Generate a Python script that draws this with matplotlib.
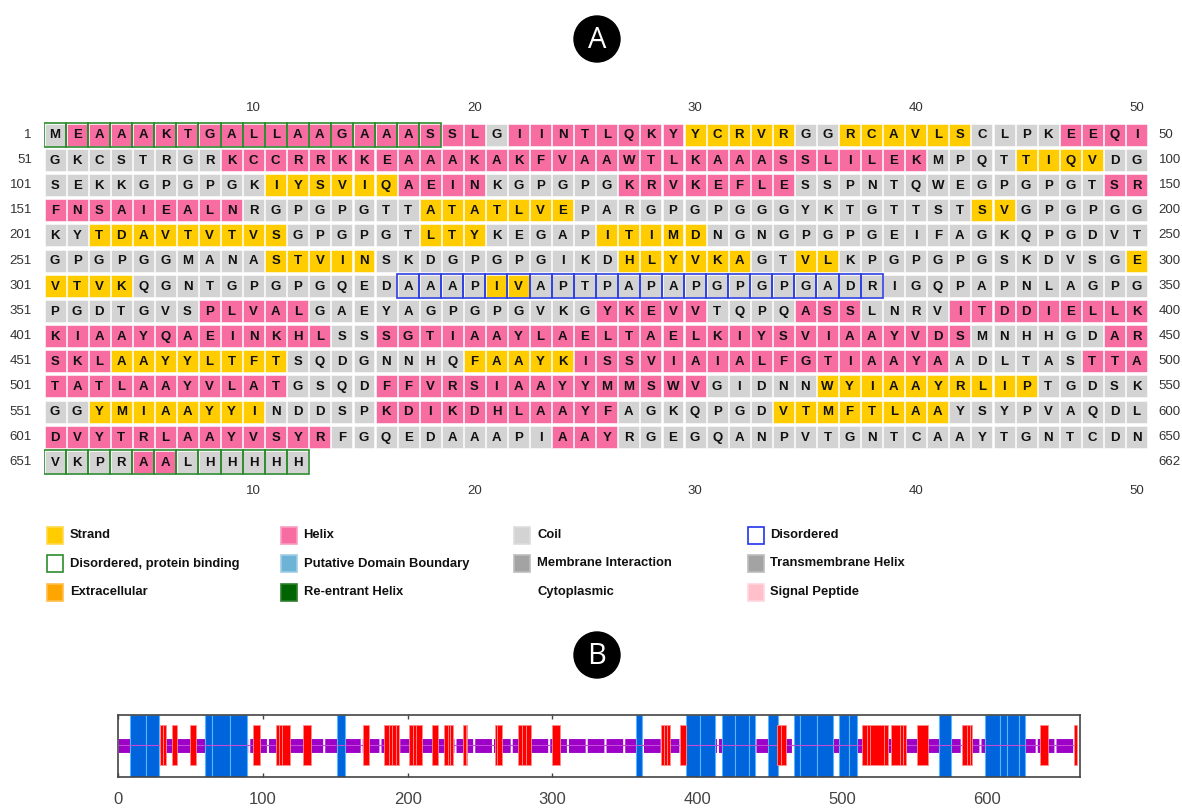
import matplotlib
matplotlib.use("Agg")
import matplotlib.pyplot as plt
from matplotlib.patches import Rectangle, Circle

plt.rcParams["font.family"] = ["Liberation Sans", "DejaVu Sans"]

# ------------------------------------------------------------
# Panel A: sequence with predicted secondary structure
# (50 residues per row, groups of ten for readability)
# ------------------------------------------------------------
SEQ_ROWS = [
    "MEAAAKTGAL LAAGAAASSL GIINTLQKYY CRVRGGRCAV LSCLPKEEQI",
    "GKCSTRGRKC CRRKKEAAAK AKFVAAWTLK AAASSLILEK MPQTTIQVDG",
    "SEKKGPGPGK IYSVIQAEIN KGPGPGKRVK EFLESSPNTQ WEGPGPGTSR",
    "FNSAIEALNR GPGPGTTATA TLVEPARGPG PGGGYKTGTT STSVGPGPGG",
    "KYTDAVTVTV SGPGPGTLTY KEGAPITIMD NGNGPGPGEI FAGKQPGDVT",
    "GPGPGGMANA STVINSKDGP GPGIKDHLYV KAGTVLKPGP GPGSKDVSGE",
    "VTVKQGNTGP GPGQEDAAAP IVAPTPAPAP GPGPGADRIG QPAPNLAGPG",
    "PGDTGVSPLV ALGAEYAGPG PGVKGYKEVV TQPQASSLNR VITDDIELLK",
    "KIAAYQAEIN KHLSSSGTIA AYLAELTAEL KIYSVIAAYV DSMNHHGDAR",
    "SKLAAYYLTF TSQDGNNHQF AAYKISSVIA IALFGTIAAY AADLTASTTA",
    "TATLAAYVLA TGSQDFFVRS IAAYYMMSWV GIDNNWYIAA YRLIPTGDSK",
    "GGYMIAAYYI NDDSPKDIKD HLAAYFAGKQ PGDVTMFTLA AYSYPVAQDL",
    "DVYTRLAAYV SYRFGQEDAA APIAAYRGEG QANPVTGNTC AAYTGNTCDN",
    "VKPRAALHHH HH",
]

# H = helix, E = strand, C = coil
SS_ROWS = [
    "CHHHHHHHHH HHHHHHHHHH CHHHHHHHHE EEEECCEEEE EECCCCHHHH",
    "CCCCCCCCHH HHHHHHHHHH HHHHHHHHHH HHHHHHHHHH CCCCEEEECC",
    "CCCCCCCCCC EEEEEEHHHH CCCCCCHHHH HHHHCCCCCC CCCCCCCCHH",
    "HHHHHHHHHC CCCCCCCEEE EEEECCCCCC CCCCCCCCCC CCEECCCCCC",
    "CCEEEEEEEE ECCCCCCEEE CCCCCEEEEE CCCCCCCCCC CCCCCCCCCC",
    "CCCCCCCCCC EEEEECCCCC CCCCCCEEEE EECCEECCCC CCCCCCCCCE",
    "EEEECCCCCC CCCCCCCCCC EECCCCCCCC CCCCCCCCCC CCCCCCCCCC",
    "CCCCCCCHHH HHCCCCCCCC CCCCCHHHHH CCCCHHHCCC CHHHHHHHHH",
    "HHHHHHHHHH HHHCCHHHHH HHHHHHHHHH HHHHHHHHHH HHCCCCCCHH",
    "HHHEEEEEEE ECCCCCCCCE EEEEHHHHHH HHHHHHHHHH HCCCCCCHHH",
    "HHHHHHHHHH HCCCCHHHHH HHHHHHHHHH CCCCCEEEEE EEEEECCCCC",
    "CCEEEEEEEE CCCCCHHHHH HHHHHHCCCC CCCEEEEEEE ECCCCCCCCC",
    "HHHHHHHHHH HHHCCCCCCC CCCHHHCCCC CCCCCCCCCC CCCCCCCCCC",
    "CCCCHHCCCC CC",
]

DISORDERED = [(317, 338)]
DISORDERED_BINDING = [(1, 18), (651, 662)]
COL_TICKS = [10, 20, 30, 40, 50]

SS_COLORS = {"H": "#F76DA2", "E": "#FFCC00", "C": "#D3D3D3"}

LEGEND_LABELS = [
    "Strand", "Helix", "Coil", "Disordered",
    "Disordered, protein binding", "Putative Domain Boundary",
    "Membrane Interaction", "Transmembrane Helix",
    "Extracellular", "Re-entrant Helix", "Cytoplasmic", "Signal Peptide",
]
LEGEND_FACE = [
    "#FFCC00", "#F76DA2", "#D3D3D3", "white",
    "white", "#6CB3D6", "#A3A3A3", "#A3A3A3",
    "#FFA500", "#006400", "none", "#FFC0CB",
]
LEGEND_EDGE = [
    "#FFD84D", "#F99CC2", "#DDDDDD", "#2233EE",
    "#2E8B2E", "#9FCDE6", "#BDBDBD", "#BDBDBD",
    "#FFBF4D", "#2E7D2E", "none", "#FFD6DD",
]

# ------------------------------------------------------------
# Panel B: disorder / binding profile along the chain
# ------------------------------------------------------------
B_TICKS = [0, 100, 200, 300, 400, 500, 600]
CHAIN_LENGTH = 662
BLUE_BLOCKS = [
    (8, 19), (19, 28),
    (60, 65), (65, 77), (77, 89),
    (151, 157),
    (358, 362),
    (392, 402), (402, 412),
    (417, 426), (426, 436), (436, 440),
    (449, 456),
    (467, 471), (471, 483), (483, 494),
    (498, 505), (505, 510),
    (567, 575),
    (599, 609), (609, 614), (614, 622), (622, 626),
]
RED_BLOCKS = [
    (29, 31), (31, 33), (37, 41), (50, 54), (93, 98),
    (109, 111), (111, 113), (113, 119), (128, 133), (169, 173),
    (184, 187), (187, 189), (189, 192), (192, 194),
    (201, 204), (204, 206), (206, 210), (217, 221),
    (225, 228), (228, 229), (229, 231), (238, 240), (240, 241),
    (260, 262), (262, 265), (276, 279), (279, 282), (282, 285),
    (300, 305), (375, 377), (377, 379), (379, 381), (388, 392),
    (455, 458), (458, 461),
    (514, 517), (517, 519), (519, 529), (529, 532),
    (534, 540), (540, 542), (542, 544), (552, 559),
    (583, 586), (586, 588), (588, 590), (637, 642), (660, 662),
]

W, H = 1182, 810
fig = plt.figure(figsize=(W / 100, H / 100), dpi=100)

# grid axes: one unit per residue column / per row
ax = fig.add_axes([44 / W, 1 - 474.6 / H, 1103.5 / W, 352.5 / H])
ax.set_xlim(0.5, 50.5)
ax.set_ylim(13.5, -0.5)
ax.axis("off")

seq = "".join(r.replace(" ", "") for r in SEQ_ROWS)
ss = "".join(r.replace(" ", "") for r in SS_ROWS)

for i, (aa, s) in enumerate(zip(seq, ss)):
    row, col = divmod(i, 50)
    x = col + 1
    ax.add_patch(Rectangle((x - 0.475, row - 0.437), 0.95, 0.873,
                           facecolor=SS_COLORS[s], edgecolor="white", lw=0.4))
    ax.text(x, row + 0.03, aa, ha="center", va="center", fontsize=9.5,
            fontweight="bold", color="#111111")

for regions, color in [(DISORDERED, "#2E3FE0"), (DISORDERED_BINDING, "#2E8B2E")]:
    for start, end in regions:
        for n in range(start, end + 1):
            row, col = divmod(n - 1, 50)
            ax.add_patch(Rectangle((col + 0.5, row - 0.475), 1.0, 0.95,
                                   fill=False, edgecolor=color, lw=1.2))

n_rows = len(SEQ_ROWS)
for row in range(n_rows):
    ax.text(-0.05, row, str(row * 50 + 1), ha="right", va="center",
            fontsize=9.5, color="#333333", clip_on=False)
    ax.text(51.0, row, str(min((row + 1) * 50, len(seq))), ha="left",
            va="center", fontsize=9.5, color="#333333", clip_on=False)
for c in COL_TICKS:
    ax.text(c, -1.06, str(c), ha="center", va="center", fontsize=9.5,
            color="#333333", clip_on=False)
    ax.text(c, 14.15, str(c), ha="center", va="center", fontsize=9.5,
            color="#333333", clip_on=False)

# overlay in pixel units for the panel badges and the key
ov = fig.add_axes([0, 0, 1, 1])
ov.set_xlim(0, W)
ov.set_ylim(H, 0)
ov.axis("off")

for letter, cy in [("A", 39), ("B", 655)]:
    ov.add_patch(Circle((597, cy), 23, color="black"))
    ov.text(597, cy + 1, letter, ha="center", va="center", fontsize=21,
            color="white", family=["Open Sans", "DejaVu Sans"])

for k, (label, fc, ec) in enumerate(zip(LEGEND_LABELS, LEGEND_FACE, LEGEND_EDGE)):
    r, c = divmod(k, 4)
    x0 = 47 + c * 233.5
    y0 = 535 + r * 28.5
    if fc != "none":
        ov.add_patch(Rectangle((x0, y0 - 8.5), 16, 17, facecolor=fc,
                               edgecolor=ec, lw=1.2))
    ov.text(x0 + 23, y0, label, ha="left", va="center", fontsize=9.4,
            fontweight="bold", color="#111111")

# panel B
axb = fig.add_axes([118 / W, 1 - 777 / H, 961.6 / W, 62 / H])
axb.set_xlim(0, 664)
axb.set_ylim(0, 1)

bar, = axb.plot([1, CHAIN_LENGTH], [0.5, 0.5], color="#9D00C6", lw=10,
                solid_capstyle="butt", zorder=1)
bar.set_dashes((1.2, 0.15))
bar.set_dash_capstyle("butt")

for s, e in BLUE_BLOCKS:
    axb.add_patch(Rectangle((s, 0), e - s, 1, facecolor="#0064DC",
                            edgecolor="#5AB4FF", lw=0.8, zorder=2))
axb.plot([1, CHAIN_LENGTH], [0.52, 0.52], color="#C04CD8", lw=0.8, zorder=3)
for s, e in RED_BLOCKS:
    axb.add_patch(Rectangle((s, 0.19), e - s, 0.65, facecolor="#FF0000",
                            edgecolor="#FF8C8C", lw=0.6, zorder=4))

axb.set_xticks(B_TICKS)
axb.set_yticks([])
axb.tick_params(axis="x", direction="in", top=True, length=3, width=1,
                color="#444444", labelsize=12, labelcolor="#444444", pad=11)
for sp in axb.spines.values():
    sp.set_color("#444444")
    sp.set_linewidth(1.2)

fig.savefig("out.png", dpi=100)
